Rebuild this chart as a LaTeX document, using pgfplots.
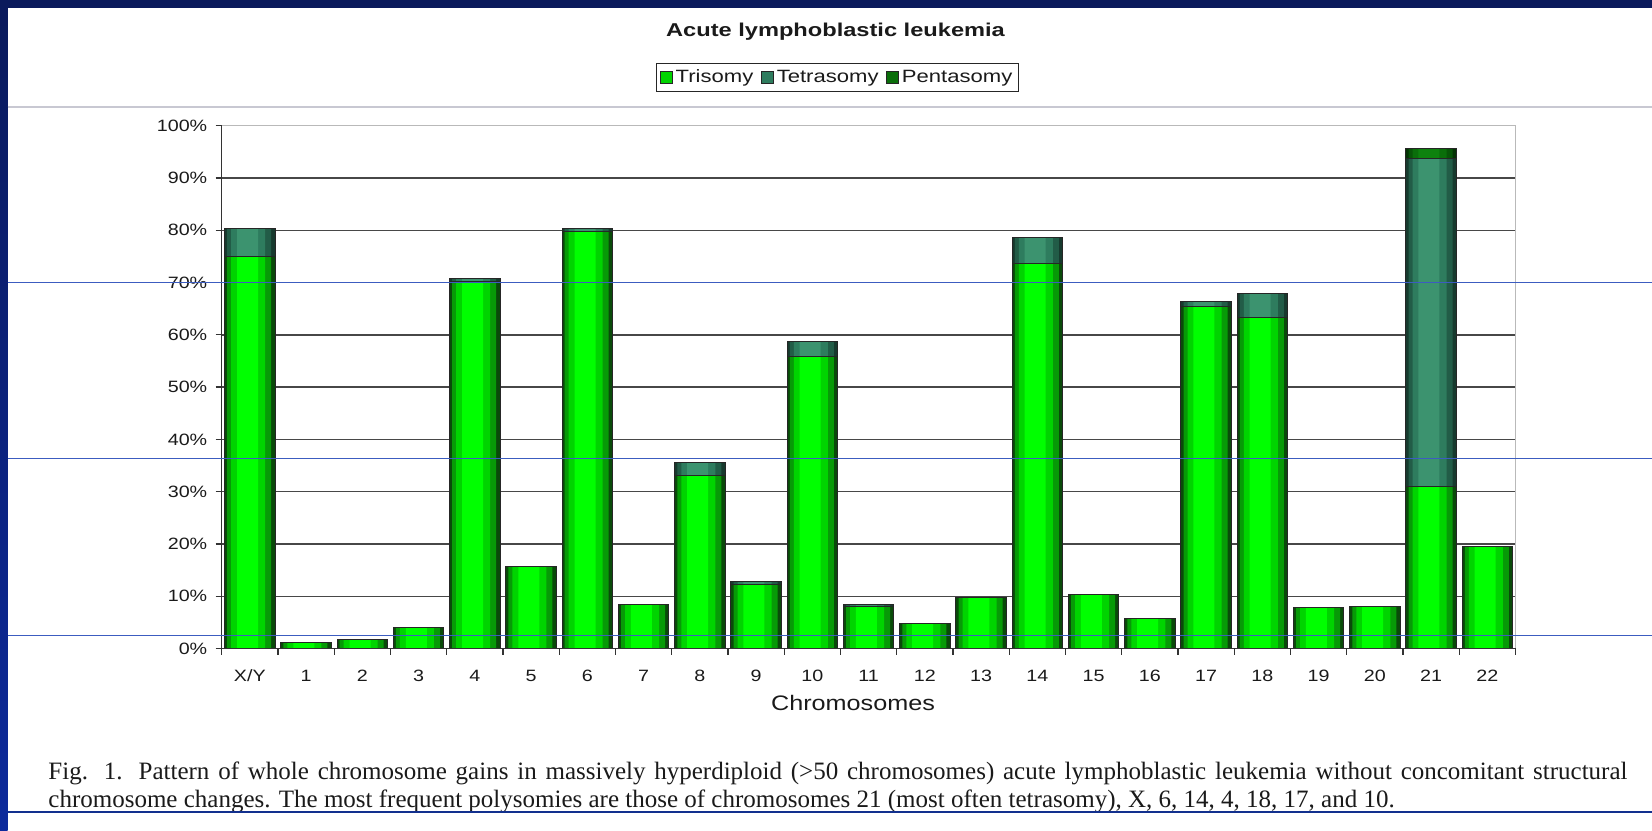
\documentclass[border=0pt]{standalone}
\usepackage{fontspec}
\setmainfont{Liberation Sans}
\newfontfamily\capfont{Liberation Serif}
\usepackage{graphicx}
\usepackage{pgfplots}
\usepackage{pgfplotstable}
\pgfplotsset{compat=1.18}

\definecolor{navy}{HTML}{0A1A5C}
\definecolor{leftblue}{HTML}{0C2A9C}
\definecolor{bluel}{HTML}{3C5CC0}
\definecolor{blued}{HTML}{12308E}
\definecolor{sepgray}{HTML}{C8C8D2}
\definecolor{txt}{HTML}{1A1A1A}
% trisomy layers (edge -> centre)
\definecolor{triA}{HTML}{0A4A0A}
\definecolor{triB}{HTML}{079A07}
\definecolor{triC}{HTML}{00D400}
\definecolor{triD}{HTML}{00FF00}
% tetrasomy layers
\definecolor{tetA}{HTML}{173A2E}
\definecolor{tetB}{HTML}{225C47}
\definecolor{tetC}{HTML}{2E7C5E}
\definecolor{tetD}{HTML}{3C936F}
% pentasomy layers
\definecolor{penA}{HTML}{053305}
\definecolor{penB}{HTML}{075507}
\definecolor{penC}{HTML}{0A6E0A}
\definecolor{penD}{HTML}{0E820E}

\pgfplotstableread{
x tri tet pen
0 74.9 5.4 0
1 1.2 0 0
2 1.7 0 0
3 4.0 0 0
4 70.2 0.6 0
5 15.7 0 0
6 79.7 0.6 0
7 8.5 0 0
8 33.0 2.6 0
9 12.2 0.6 0
10 55.9 2.9 0
11 8.0 0.4 0
12 4.7 0 0
13 9.8 0 0
14 73.7 5.0 0
15 10.4 0 0
16 5.8 0 0
17 65.5 0.8 0
18 63.4 4.5 0
19 7.8 0 0
20 8.1 0 0
21 30.9 62.9 1.9
22 19.6 0 0
}\data
\pgfplotstablecreatecol[expr={\thisrow{tri}+\thisrow{tet}}]{cumtet}\data
\pgfplotstablecreatecol[expr={\thisrow{tri}+\thisrow{tet}+\thisrow{pen}}]{cumpen}\data

\pgfplotsset{
  layer/.style n args={3}{forget plot, ybar, bar width=#1, bar shift=#2, fill=#3, draw=none},
  outline/.style={forget plot, ybar, bar width=25.3pt, bar shift=0pt, fill=none, draw=black!85, line width=0.5pt},
}

\begin{document}
\begin{tikzpicture}
\useasboundingbox (0,0) rectangle (826pt,415pt);
\fill[white] (0,0) rectangle (826pt,415pt);
\fill[navy] (0,411.2pt) rectangle (826pt,415pt);
\shade[top color=navy, bottom color=leftblue] (0,0) rectangle (3.8pt,415pt);
\draw[sepgray, line width=0.7pt] (3.8pt,361.5pt) -- (826pt,361.5pt);
\node[anchor=base, inner sep=0, text=txt] at (417.75pt,396.6pt) {\scalebox{1.27}[1]{\fontsize{9.3}{11}\selectfont\bfseries Acute lymphoblastic leukemia}};

\begin{axis}[
  at={(110.85pt,90.75pt)}, anchor=south west,
  scale only axis, width=646.9pt, height=261.4pt,
  ybar,
  xmin=-0.5, xmax=22.5, ymin=0, ymax=100,
  axis line style={gray!55, line width=0.6pt},
  tick pos=left,
  tick align=outside,
  major tick length=3pt,
  tick style={black!80, line width=0.6pt},
  x tick label as interval,
  xtick={-0.5,0.5,...,22.5},
  xticklabels={X/Y,1,2,3,4,5,6,7,8,9,10,11,12,13,14,15,16,17,18,19,20,21,22},
  ytick={0,10,...,90},
  yticklabels={0\%,10\%,20\%,30\%,40\%,50\%,60\%,70\%,80\%,90\%},
  extra y ticks={100},
  extra y tick labels={100\%},
  extra y tick style={grid=none},
  ymajorgrids,
  grid style={black!72, line width=0.7pt},
  ticklabel style={font=\fontsize{8.2}{9.8}\selectfont, text=txt},
  xticklabel style={xscale=1.2, yshift=-4.2pt},
  yticklabel style={xscale=1.2},
  legend style={at={(0.476,1.092)}, anchor=center, legend columns=3,
    draw=black!85, line width=0.5pt, inner xsep=1.5pt, inner ysep=1.2pt,
    nodes={inner xsep=1.6pt, inner ysep=2pt, text=txt},
    font=\fontsize{8.9}{10.5}\selectfont,
    /tikz/every even column/.append style={column sep=2pt}},
  legend image code/.code={\draw[#1] (0pt,-3pt) rectangle (6pt,3pt);},
  after end axis/.code={
    \draw[black!80, line width=0.6pt] (rel axis cs:0,1) -- (rel axis cs:0,0) -- (rel axis cs:1,0);
  },
]
% pentasomy (full stack height)
\addplot[layer={25.3pt}{0pt}{penA}] table[x=x,y=cumpen]{\data};
\addplot[layer={22.0pt}{-0.3pt}{penB}] table[x=x,y=cumpen]{\data};
\addplot[layer={17.0pt}{-0.8pt}{penC}] table[x=x,y=cumpen]{\data};
\addplot[layer={10.5pt}{-1.1pt}{penD}] table[x=x,y=cumpen]{\data};
% tetrasomy (trisomy + tetrasomy)
\addplot[layer={25.3pt}{0pt}{tetA}] table[x=x,y=cumtet]{\data};
\addplot[layer={22.0pt}{-0.3pt}{tetB}] table[x=x,y=cumtet]{\data};
\addplot[layer={17.0pt}{-0.8pt}{tetC}] table[x=x,y=cumtet]{\data};
\addplot[layer={10.5pt}{-1.1pt}{tetD}] table[x=x,y=cumtet]{\data};
% trisomy
\addplot[layer={25.3pt}{0pt}{triA}] table[x=x,y=tri]{\data};
\addplot[layer={22.0pt}{-0.3pt}{triB}] table[x=x,y=tri]{\data};
\addplot[layer={17.0pt}{-0.8pt}{triC}] table[x=x,y=tri]{\data};
\addplot[layer={10.5pt}{-1.1pt}{triD}] table[x=x,y=tri]{\data};
% outlines of the three segments
\addplot[outline] table[x=x,y=cumpen]{\data};
\addplot[outline] table[x=x,y=cumtet]{\data};
\addplot[outline] table[x=x,y=tri]{\data};
% legend
\addlegendimage{fill=triC, draw=black!85, line width=0.5pt}
\addlegendentry{\scalebox{1.24}[1]{Trisomy}}
\addlegendimage{fill=tetC, draw=black!85, line width=0.5pt}
\addlegendentry{\scalebox{1.24}[1]{Tetrasomy}}
\addlegendimage{fill=penC, draw=black!85, line width=0.5pt}
\addlegendentry{\scalebox{1.24}[1]{Pentasomy}}
\end{axis}

\node[anchor=base, inner sep=0, text=txt] at (426.5pt,60pt) {\scalebox{1.2}[1]{\fontsize{10.5}{12}\selectfont Chromosomes}};

\node[anchor=base west, inner sep=0, text=txt] at (24pt,25.5pt) {\capfont\fontsize{12.5}{14}\selectfont\makebox[789.5pt][s]{Fig. 1. Pattern of whole chromosome gains in massively hyperdiploid (>50 chromosomes) acute lymphoblastic leukemia without concomitant structural}};
\node[anchor=base west, inner sep=0, text=txt] at (24pt,11.5pt) {\capfont\fontsize{12.5}{14}\selectfont chromosome changes. The most frequent polysomies are those of chromosomes 21 (most often tetrasomy), X, 6, 14, 4, 18, 17, and 10.};

\draw[bluel, line width=0.5pt] (3.8pt,273.5pt) -- (826pt,273.5pt);
\draw[bluel, line width=0.5pt] (3.8pt,185.5pt) -- (826pt,185.5pt);
\draw[bluel, line width=0.5pt] (3.8pt,97.5pt) -- (826pt,97.5pt);
\draw[blued, line width=0.9pt] (3.8pt,9pt) -- (826pt,9pt);
\end{tikzpicture}
\end{document}
